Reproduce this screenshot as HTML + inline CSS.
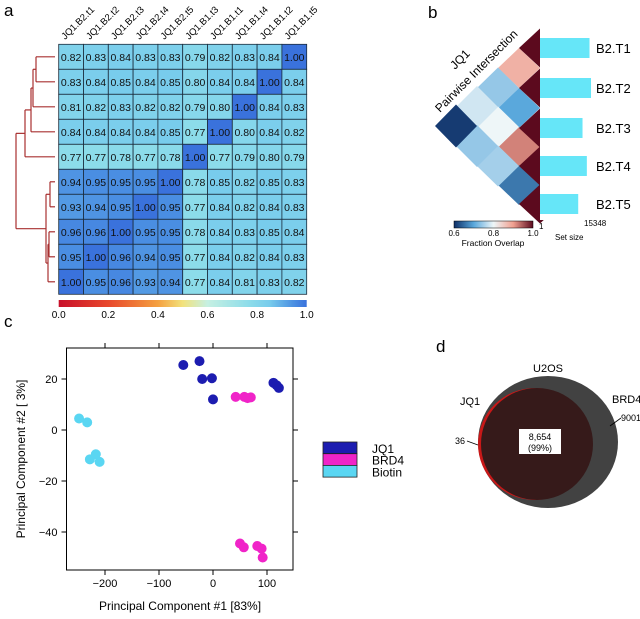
<!DOCTYPE html>
<html><head><meta charset="utf-8">
<style>
body{margin:0;background:#fff;}
svg{display:block;font-family:"Liberation Sans",sans-serif;}
</style></head>
<body>
<svg id="fig" width="640" height="619" viewBox="0 0 640 619">
<text x="4" y="16" font-size="17">a</text>
<text x="428" y="18" font-size="17">b</text>
<text x="4" y="327" font-size="17">c</text>
<text x="436" y="352" font-size="17">d</text>
<g id="pa"></g>
<g id="pb"></g>
<g id="pc"></g>
<g id="pd">
  <ellipse cx="548" cy="442" rx="70" ry="66" fill="#424242"/>
  <ellipse cx="535" cy="444" rx="57" ry="56" fill="#c81818"/>
  <ellipse cx="537" cy="444" rx="56" ry="56" fill="#361a1a"/>
  <rect x="519" y="429" width="42" height="25" fill="#fff"/>
  <text x="540" y="440" font-size="9" text-anchor="middle">8,654</text>
  <text x="540" y="451" font-size="9" text-anchor="middle">(99%)</text>
  <text x="548" y="372" font-size="11" text-anchor="middle">U2OS</text>
  <text x="460" y="405" font-size="11">JQ1</text>
  <text x="612" y="403" font-size="11">BRD4</text>
  <text x="621" y="421" font-size="9">9001</text>
  <line x1="610" y1="426" x2="621" y2="418" stroke="#000" stroke-width="0.8"/>
  <text x="455" y="444" font-size="9">36</text>
  <line x1="467" y1="441" x2="478" y2="445" stroke="#000" stroke-width="0.8"/>
</g>
</svg>
<script>
// ---------- Panel a data ----------
const colLabels=["JQ1.B2.t1","JQ1.B2.t2","JQ1.B2.t3","JQ1.B2.t4","JQ1.B2.t5","JQ1.B1.t3","JQ1.B1.t1","JQ1.B1.t4","JQ1.B1.t2","JQ1.B1.t5"];
const heatValues=[
[0.82,0.83,0.84,0.83,0.83,0.79,0.82,0.83,0.84,1.00],
[0.83,0.84,0.85,0.84,0.85,0.80,0.84,0.84,1.00,0.84],
[0.81,0.82,0.83,0.82,0.82,0.79,0.80,1.00,0.84,0.83],
[0.84,0.84,0.84,0.84,0.85,0.77,1.00,0.80,0.84,0.82],
[0.77,0.77,0.78,0.77,0.78,1.00,0.77,0.79,0.80,0.79],
[0.94,0.95,0.95,0.95,1.00,0.78,0.85,0.82,0.85,0.83],
[0.93,0.94,0.95,1.00,0.95,0.77,0.84,0.82,0.84,0.83],
[0.96,0.96,1.00,0.95,0.95,0.78,0.84,0.83,0.85,0.84],
[0.95,1.00,0.96,0.94,0.95,0.77,0.84,0.82,0.84,0.83],
[1.00,0.95,0.96,0.93,0.94,0.77,0.84,0.81,0.83,0.82]];
const cbTicks=[0,0.2,0.4,0.6,0.8,1.0];
// ---------- Panel b data ----------
const setNames=["B2.T1","B2.T2","B2.T3","B2.T4","B2.T5"];
const setSizes=[14900,15348,12800,14100,11500];
const overlapPairs=[[0,1,0.88],[1,2,0.70],[2,3,0.92],[3,4,0.66],[0,2,0.74],[1,3,0.80],[2,4,0.75],[0,3,0.78],[1,4,0.74],[0,4,0.61]];
// ---------- Panel c data ----------
const jq1X=[-55,-25,-20,-2,0,112,118,122];
const jq1Y=[25.5,27,20,20.3,12,18.5,17.5,16.5];
const brd4X=[42,58,64,70,50,57,82,90,92];
const brd4Y=[13,13,12.5,12.8,-44.5,-46,-45.5,-46.5,-50];
const biotinX=[-248,-233,-228,-217,-210];
const biotinY=[4.5,3,-11.5,-9.5,-12.5];
const xTicks=[-200,-100,0,100];
const yTicks=[20,0,-20,-40];

const NS="http://www.w3.org/2000/svg";
function mk(parent,tag,attrs,text){const e=document.createElementNS(NS,tag);for(const k in attrs)e.setAttribute(k,attrs[k]);if(text!==undefined)e.textContent=text;parent.appendChild(e);return e;}
function hex(h){return [parseInt(h.slice(1,3),16),parseInt(h.slice(3,5),16),parseInt(h.slice(5,7),16)];}
function ramp(stops,v){for(let i=0;i<stops.length-1;i++){const[a,ca]=stops[i],[b,cb]=stops[i+1];if(v<=b||i==stops.length-2){const t=Math.max(0,Math.min(1,(v-a)/(b-a)));const A=hex(ca),B=hex(cb);return `rgb(${A.map((x,k)=>Math.round(x+(B[k]-x)*t)).join(',')})`;}}}
const stopsA=[[0,"#c8102a"],[0.2,"#e8482c"],[0.4,"#f4a040"],[0.5,"#f2e27c"],[0.6,"#c6f0e2"],[0.77,"#8cdcea"],[0.85,"#78ccec"],[0.95,"#4a8ee2"],[1,"#3a72dc"]];

// ---------- Panel a ----------
const pa=document.getElementById('pa');
const hx0=58.7,hy0=44.3,cw=24.8,ch=25;
heatValues.forEach((row,i)=>row.forEach((v,j)=>{
  const r=mk(pa,'rect',{x:hx0+j*cw,y:hy0+i*ch,width:cw,height:ch,fill:ramp(stopsA,v),stroke:'#1a2a3a','stroke-width':0.8});
  
  
  const t=mk(pa,'text',{x:hx0+j*cw+cw/2,y:hy0+i*ch+ch/2+4,'font-size':10.5,'text-anchor':'middle',fill:'#111'},v.toFixed(2));
  
  
}));
colLabels.forEach((l,j)=>{
  const x=hx0+j*cw+cw/2-6,y=40;
  const t=mk(pa,'text',{x:x,y:y,'font-size':9.5,transform:`rotate(-45 ${x} ${y})`},l);
  
  
});
// dendrogram
const rc=i=>hy0+i*ch+ch/2;
const dend=[[0,1,36],[2,null,33],[3,null,31],[4,null,25],[5,6,49],[7,8,49],[9,null,48]];
const dg=mk(pa,'g',{stroke:'#a83030','stroke-width':1.2,fill:'none'});


function seg(x1,y1,x2,y2){mk(dg,'line',{x1,y1,x2,y2});}
// top cluster
seg(55,rc(0),36,rc(0));seg(55,rc(1),36,rc(1));seg(36,rc(0),36,rc(1));
let ty=(rc(0)+rc(1))/2;seg(36,ty,33,ty);seg(55,rc(2),33,rc(2));seg(33,ty,33,rc(2));
ty=(ty+rc(2))/2;seg(33,ty,31,ty);seg(55,rc(3),31,rc(3));seg(31,ty,31,rc(3));
ty=(ty+rc(3))/2;seg(31,ty,25,ty);seg(55,rc(4),25,rc(4));seg(25,ty,25,rc(4));
const topY=(ty+rc(4))/2;
// bottom cluster
seg(55,rc(5),50,rc(5));seg(55,rc(6),50,rc(6));seg(50,rc(5),50,rc(6));
seg(55,rc(7),49,rc(7));seg(55,rc(8),49,rc(8));seg(49,rc(7),49,rc(8));
let by=(rc(7)+rc(8))/2;seg(49,by,48,by);seg(55,rc(9),48,rc(9));seg(48,by,48,rc(9));
by=(by+rc(9))/2;const b56=(rc(5)+rc(6))/2;seg(50,b56,46,b56);seg(48,by,46,by);seg(46,b56,46,by);
const botY=(b56+by)/2;seg(46,botY,16,botY);seg(25,topY,16,topY);seg(16,topY,16,botY);
// colorbar
const defs=mk(document.getElementById('fig'),'defs',{});
const lgA=mk(defs,'linearGradient',{id:'gA'});
stopsA.forEach(([o,c])=>mk(lgA,'stop',{offset:o,'stop-color':c}));
const cb=mk(pa,'rect',{x:hx0,y:300,width:248,height:7,fill:'url(#gA)'});


cbTicks.forEach(v=>{const t=mk(pa,'text',{x:hx0+v*248,y:318,'font-size':10,'text-anchor':'middle'},v.toFixed(1));
  
  });

// ---------- Panel b ----------
const pb=document.getElementById('pb');
const rowY=[48,88,128,166,204],dx0=540,hw=21;
const stopsB=[[0.6,"#0e2f66"],[0.7,"#5aa8dc"],[0.8,"#eef6f8"],[0.9,"#f0a090"],[1.0,"#5c0a1e"]];
function diamond(i,j,col){
  const cy=(rowY[i]+rowY[j])/2,cx=dx0-hw*(j-i),hh=(rowY[j]-rowY[i])/2/Math.max(1,j-i)||19.5;
  const h=19.5+ (j-i)*0.5;
  return mk(pb,'polygon',{points:`${cx-hw},${cy} ${cx},${cy-h} ${cx+hw},${cy} ${cx},${cy+h}`,fill:col});
}
overlapPairs.forEach(([i,j,v])=>{const p=diamond(i,j,ramp(stopsB,v));
  
  });
rowY.forEach((y,i)=>{const p=diamond(i,i,'#5c0a1e');
  
  });
mk(pb,'rect',{x:540,y:20,width:100,height:200,fill:'#fff'});
const maxSize=15348;
setSizes.forEach((s,i)=>{
  const b=mk(pb,'rect',{x:540,y:rowY[i]-10,width:s/maxSize*51,height:20,fill:'#66e6f8'});
  
  
  const t=mk(pb,'text',{x:596,y:rowY[i]+5,'font-size':13},setNames[i]);
  
  
});
const lgB=mk(defs,'linearGradient',{id:'gB'});
stopsB.forEach(([o,c])=>mk(lgB,'stop',{offset:(o-0.6)/0.4,'stop-color':c}));
const cbb=mk(pb,'rect',{x:454,y:221,width:79,height:7,fill:'url(#gB)',stroke:'#000','stroke-width':0.5});


[0.6,0.8,1.0].forEach(v=>mk(pb,'text',{x:454+(v-0.6)/0.4*79,y:236,'font-size':8,'text-anchor':'middle'},v.toFixed(1)));
mk(pb,'text',{x:493,y:246,'font-size':8.5,'text-anchor':'middle'},'Fraction Overlap');
mk(pb,'text',{x:539,y:229,'font-size':8},'1');
mk(pb,'text',{x:584,y:226,'font-size':8},'15348');
mk(pb,'text',{x:555,y:240,'font-size':8},'Set size');
mk(pb,'text',{x:455,y:70,'font-size':12,transform:'rotate(-45 455 70)'},'JQ1');
mk(pb,'text',{x:440,y:113,'font-size':12,transform:'rotate(-45 440 113)'},'Pairwise Intersection');

// ---------- Panel c ----------
const pc=document.getElementById('pc');
const X0=66.5,X1=293,Y0=348,Y1=570;
const sx=v=>213+v*0.54, sy=v=>430-v*2.55;
const box=mk(pc,'rect',{x:X0,y:Y0,width:X1-X0,height:Y1-Y0,fill:'none',stroke:'#000','stroke-width':1});


xTicks.forEach(v=>{const x=sx(v);
  mk(pc,'line',{x1:x,y1:Y1,x2:x,y2:Y1+5,stroke:'#000'});
  mk(pc,'line',{x1:x,y1:Y0,x2:x,y2:Y0-5,stroke:'#000'});
  const t=mk(pc,'text',{x:x,y:Y1+17,'font-size':11,'text-anchor':'middle'},v===0?'0':(v<0?'\u2212'+(-v):String(v)));
  
  });
yTicks.forEach(v=>{const y=sy(v);
  mk(pc,'line',{x1:X0,y1:y,x2:X0-5,y2:y,stroke:'#000'});
  mk(pc,'line',{x1:X1,y1:y,x2:X1+5,y2:y,stroke:'#000'});
  const t=mk(pc,'text',{x:X0-9,y:y+4,'font-size':11,'text-anchor':'end'},v===0?'0':(v<0?'\u2212'+(-v):String(v)));
  
  });
const xt=mk(pc,'text',{x:180,y:610,'font-size':12,'text-anchor':'middle'},'Principal Component #1 [83%]');


const yt=mk(pc,'text',{x:25,y:459,'font-size':12,'text-anchor':'middle',transform:'rotate(-90 25 459)'},'Principal Component #2 [ 3%]');


function pts(xs,ys,col,name){xs.forEach((x,i)=>{const c=mk(pc,'circle',{cx:sx(x),cy:sy(ys[i]),r:5,fill:col});
  
  });}
pts(biotinX,biotinY,'#5ad6f2','biotin-point');
pts(brd4X,brd4Y,'#f024c8','brd4-point');
pts(jq1X,jq1Y,'#1c1cb0','jq1-point');
[['JQ1','#1c1cb0'],['BRD4','#f024c8'],['Biotin','#5ad6f2']].forEach(([l,c],i)=>{
  const r=mk(pc,'rect',{x:323,y:442+i*11.7,width:34,height:11.7,fill:c,stroke:'#222','stroke-width':0.8});
  
  
  const t=mk(pc,'text',{x:372,y:453+i*11.7,'font-size':12},l);
  
  
});
</script>
</body></html>
